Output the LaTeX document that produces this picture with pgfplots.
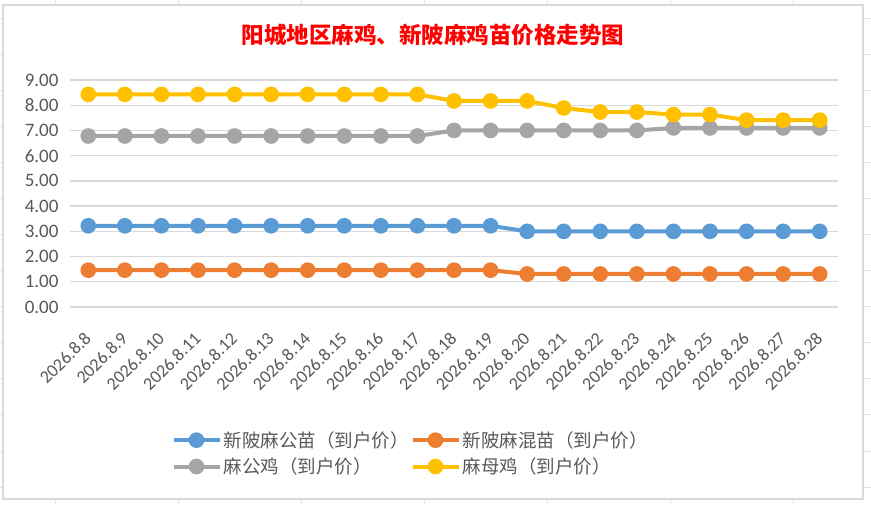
\documentclass[border=0pt]{standalone}
\usepackage{pgfplots}
\pgfplotsset{compat=1.18}
\usepackage{fontspec}
\setmainfont{Carlito}
\newfontfamily\cjk{Noto Sans CJK SC}
\definecolor{cblue}{HTML}{5B9BD5}
\definecolor{corange}{HTML}{ED7D31}
\definecolor{cgray}{HTML}{A5A5A5}
\definecolor{cyellow}{HTML}{FFC000}
\definecolor{gridc}{HTML}{D9D9D9}
\definecolor{labc}{HTML}{595959}
\definecolor{sheet}{HTML}{E3E3E3}
\begin{document}
\begin{tikzpicture}[x=1pt,y=1pt]
\useasboundingbox (0,0) rectangle (871,504);
\fill[white] (0,0) rectangle (871,504);
\foreach \yy in {485,449,413,377,341,305,269,233,197,161,125,89,53,17} {\draw[sheet,line width=1pt] (0,\yy) -- (871,\yy);}
\foreach \xx in {55,178,301,424,547,670,793} {\draw[sheet,line width=1pt] (\xx,0) -- (\xx,504);}
\filldraw[fill=white,draw=gridc,line width=1.5pt] (3,5) rectangle (863,499);
\node[text=red,font=\cjk\bfseries\fontsize{22.5}{24}\selectfont] at (433,469) {阳城地区麻鸡、新陂麻鸡苗价格走势图};
\begin{axis}[
  at={(70pt,197pt)}, anchor=south west,
  scale only axis, width=768pt, height=227pt,
  xmin=-0.5, xmax=20.5, ymin=0, ymax=9,
  ytick={0,1,...,9},
  xtick={0,1,...,20},
  xticklabels={2026.8.8,2026.8.9,2026.8.10,2026.8.11,2026.8.12,2026.8.13,2026.8.14,2026.8.15,2026.8.16,2026.8.17,2026.8.18,2026.8.19,2026.8.20,2026.8.21,2026.8.22,2026.8.23,2026.8.24,2026.8.25,2026.8.26,2026.8.27,2026.8.28},
  ymajorgrids, grid style={draw=gridc, line width=1.3pt},
  axis line style={draw=none}, tick style={draw=none}, major tick length=0pt,
  yticklabel style={/pgf/number format/.cd, fixed, fixed zerofill, precision=2, assume math mode=true, /tikz/.cd, font=\fontsize{19}{20}\selectfont, text=labc, xshift=-8pt},
  xticklabel style={xshift=2pt, yshift=-26pt, rotate=45, anchor=east, font=\fontsize{18}{20}\selectfont, text=labc},
  legend columns=2,
  legend cell align=left,
  legend style={draw=none, fill=none, at={(0.128,-0.53)}, anchor=north west, font=\cjk\fontsize{18.5}{20}\selectfont, text=labc, /tikz/every even column/.append style={column sep=0pt}, row sep=5pt},
  legend image code/.code={\draw[mark repeat=2,mark phase=2,#1] plot coordinates {(0pt,0pt) (23pt,0pt) (46pt,0pt)};},
  every axis plot/.append style={line width=4pt, mark=*, mark size=5.8pt, mark options={solid}},
]
\addplot[cblue, mark options={fill=cblue}] coordinates {(0,3.22)(1,3.22)(2,3.22)(3,3.22)(4,3.22)(5,3.22)(6,3.22)(7,3.22)(8,3.22)(9,3.22)(10,3.22)(11,3.22)(12,3.0)(13,3.0)(14,3.0)(15,3.0)(16,3.0)(17,3.0)(18,3.0)(19,3.0)(20,3.0)};
\addlegendentry{新陂麻公苗（到户价）}
\addplot[corange, mark options={fill=corange}] coordinates {(0,1.46)(1,1.46)(2,1.46)(3,1.46)(4,1.46)(5,1.46)(6,1.46)(7,1.46)(8,1.46)(9,1.46)(10,1.46)(11,1.46)(12,1.31)(13,1.31)(14,1.31)(15,1.31)(16,1.31)(17,1.31)(18,1.31)(19,1.31)(20,1.31)};
\addlegendentry{新陂麻混苗（到户价）}
\addplot[cgray, mark options={fill=cgray}] coordinates {(0,6.78)(1,6.78)(2,6.78)(3,6.78)(4,6.78)(5,6.78)(6,6.78)(7,6.78)(8,6.78)(9,6.78)(10,7.0)(11,7.0)(12,7.0)(13,7.0)(14,7.0)(15,7.0)(16,7.1)(17,7.1)(18,7.1)(19,7.1)(20,7.1)};
\addlegendentry{麻公鸡（到户价）}
\addplot[cyellow, mark options={fill=cyellow}] coordinates {(0,8.43)(1,8.43)(2,8.43)(3,8.43)(4,8.43)(5,8.43)(6,8.43)(7,8.43)(8,8.43)(9,8.43)(10,8.17)(11,8.17)(12,8.17)(13,7.89)(14,7.73)(15,7.73)(16,7.63)(17,7.63)(18,7.41)(19,7.41)(20,7.41)};
\addlegendentry{麻母鸡（到户价）}
\end{axis}
\end{tikzpicture}
\end{document}
